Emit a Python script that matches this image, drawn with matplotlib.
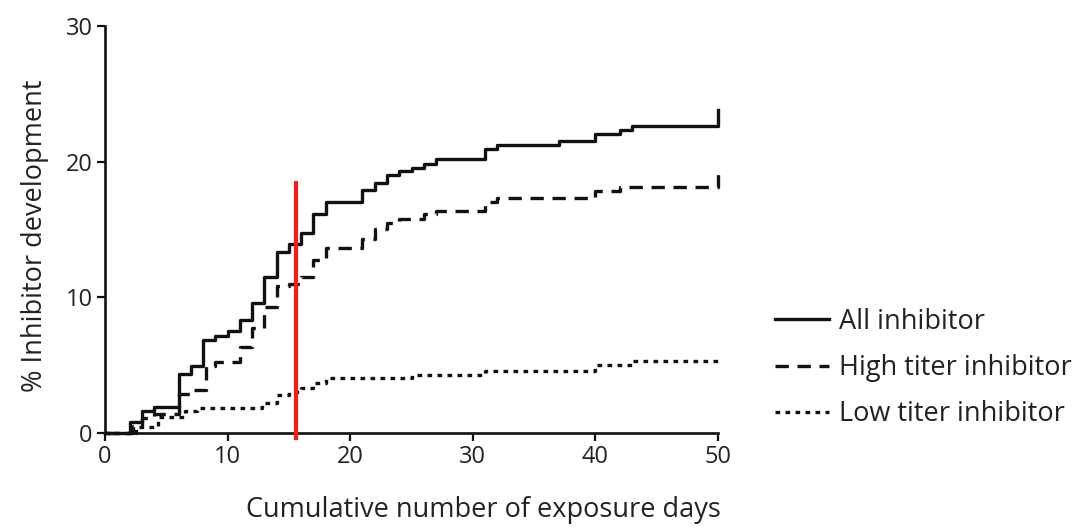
import matplotlib
matplotlib.use("Agg")
import matplotlib.pyplot as plt

# Kaplan-Meier style cumulative incidence (% inhibitor development)
days_all = [0, 2, 3, 4, 6, 7, 8, 9, 10, 11, 12, 13, 14, 15, 16, 17, 18, 21,
            22, 23, 24, 25, 26, 27, 31, 32, 37, 40, 42, 43, 50]
pct_all = [0, 0.8, 1.6, 1.9, 4.35, 4.9, 6.85, 7.15, 7.5, 8.3, 9.6, 11.5, 13.3,
           13.9, 14.7, 16.1, 17.05, 17.9, 18.4, 19.0, 19.3, 19.55, 19.8, 20.2,
           20.9, 21.2, 21.5, 22.0, 22.35, 22.6, 23.8]

days_high = [0, 2.3, 3, 4, 6, 7, 8.2, 9, 11, 12, 13, 14, 15, 16, 17, 18, 21,
             22, 23, 24, 26, 27, 31, 32, 40, 42, 50]
pct_high = [0, 0.5, 1.1, 1.4, 2.9, 3.2, 4.9, 5.25, 6.35, 7.7, 9.3, 10.8, 11.0,
            11.5, 12.75, 13.6, 14.3, 15.0, 15.5, 15.8, 16.1, 16.35, 17.05,
            17.3, 17.8, 18.1, 19.3]

days_low = [0, 2.5, 4.3, 6.5, 7.5, 12.8, 14, 15, 16, 17, 18, 25, 31, 40, 43, 50]
pct_low = [0, 0.45, 1.2, 1.6, 1.85, 2.2, 2.8, 3.0, 3.35, 3.7, 4.05, 4.3, 4.6,
           5.0, 5.3, 5.3]

labels = ["All inhibitor", "High titer inhibitor", "Low titer inhibitor"]

# red reference line
marker_day = 15.6
marker_top = 18.6

plt.rcParams["font.family"] = ["Open Sans", "DejaVu Sans"]

fig = plt.figure(figsize=(10.88, 5.28), dpi=100)
ax = fig.add_axes([0.0965, 0.18, 0.5635, 0.771])

ax.step(days_all, pct_all, where="post", color="#111111", lw=2.4,
        label=labels[0], clip_on=False)
ax.step(days_high, pct_high, where="post", color="#111111", lw=2.4,
        linestyle=(0, (4, 2.6)), label=labels[1], clip_on=False)
ax.step(days_low, pct_low, where="post", color="#111111", lw=2.4,
        linestyle=(0, (1.4, 1.6)), label=labels[2], clip_on=False)

ax.vlines(marker_day, -0.5, marker_top, color="#ff1a1a", lw=3, clip_on=False,
          zorder=5)

ax.set_xlim(0, 50)
ax.set_ylim(0, 30)
ax.set_xticks([0, 10, 20, 30, 40, 50])
ax.set_yticks([0, 10, 20, 30])

for side in ["top", "right"]:
    ax.spines[side].set_visible(False)
for side in ["left", "bottom"]:
    ax.spines[side].set_linewidth(1.9)
    ax.spines[side].set_color("#111111")

ax.tick_params(axis="both", direction="out", length=6, width=1.6,
               labelsize=17, colors="#111111", labelcolor="#222222", pad=3)

ax.set_xlabel("Cumulative number of exposure days", fontsize=19.5,
              color="#222222", labelpad=19, x=0.617)
ax.set_ylabel("% Inhibitor development", fontsize=19.5, color="#222222",
              labelpad=12, y=0.485)

ax.legend(loc="center left", bbox_to_anchor=(0.69, 0.303),
          bbox_transform=fig.transFigure, frameon=False, fontsize=19.5,
          handlelength=2.0, handletextpad=0.35, labelspacing=0.68,
          labelcolor="#222222")

fig.savefig("out.png", dpi=100)
